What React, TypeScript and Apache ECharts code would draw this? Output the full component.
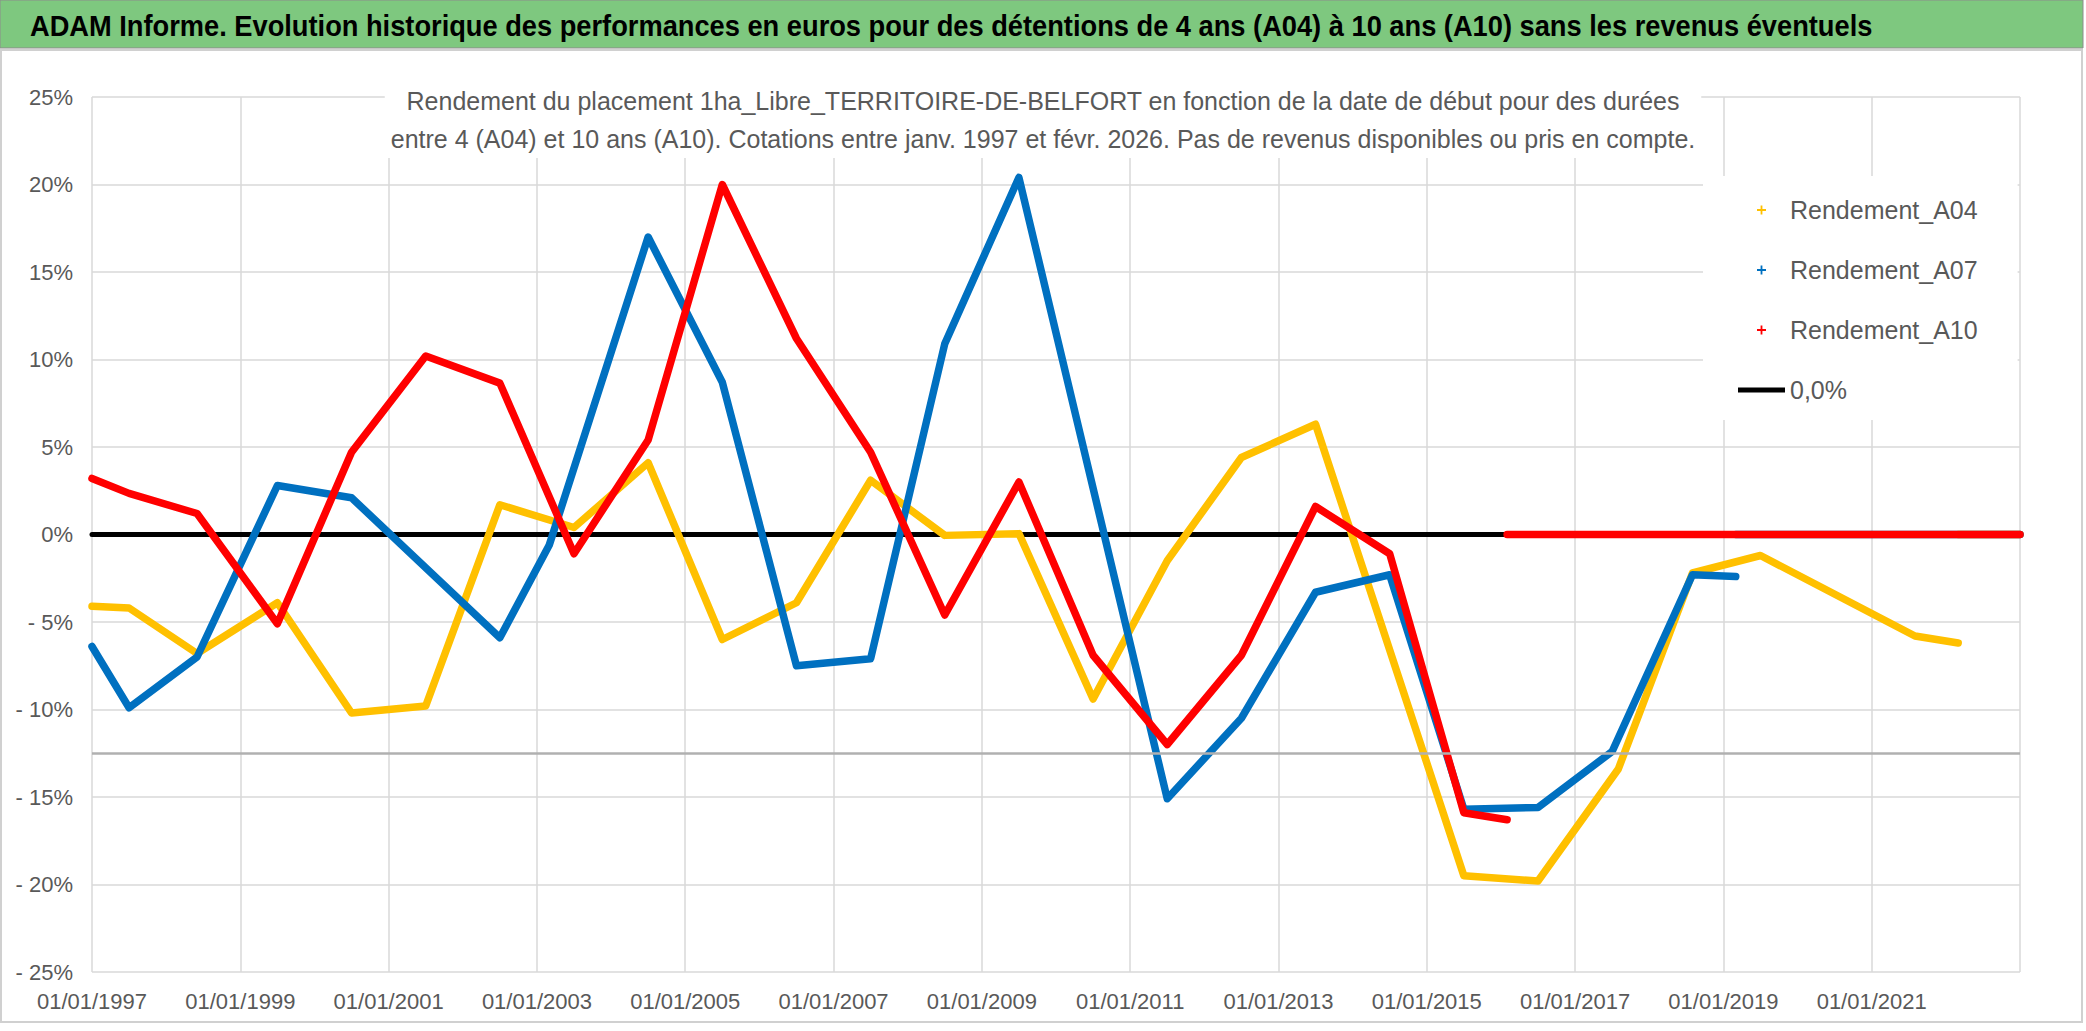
import React, { useEffect, useRef } from "react";
import * as echarts from "echarts";

const TITLE =
  "ADAM Informe. Evolution historique des performances en euros pour des détentions de 4 ans (A04) à 10 ans (A10) sans les revenus éventuels";
const SUBTITLE_LINES = [
  "Rendement du placement 1ha_Libre_TERRITOIRE-DE-BELFORT en fonction de la date de début pour des durées",
  "entre 4 (A04) et 10 ans (A10). Cotations entre janv. 1997 et févr. 2026. Pas de revenus disponibles ou pris en compte.",
];

const NAME_A04 = "Rendement_A04";
const NAME_A07 = "Rendement_A07";
const NAME_A10 = "Rendement_A10";
const NAME_ZERO = "0,0%";

// Keypoints (dates as YYYY-MM, values in %)
const A04_DATES = [
  "1997-01", "1997-07", "1998-06", "1999-07", "2000-07", "2001-07", "2002-07", "2003-07",
  "2004-07", "2005-07", "2006-07", "2007-07", "2008-07", "2009-07", "2010-07", "2011-07",
  "2012-07", "2013-07", "2015-07", "2016-07", "2017-08", "2018-08", "2019-07", "2021-08", "2022-03",
];
const A04_VALUES = [
  -4.1, -4.2, -6.8, -3.9, -10.2, -9.8, 1.7, 0.4,
  4.1, -6.0, -3.9, 3.1, -0.05, 0.05, -9.4, -1.5,
  4.4, 6.3, -19.5, -19.8, -13.4, -2.2, -1.2, -5.8, -6.2,
];
const A04_TAIL_DATES = ["2022-03", "2023-01"];
const A04_TAIL_VALUES = [0, 0];

const A07_DATES = [
  "1997-01", "1997-07", "1998-06", "1999-07", "2000-07", "2002-07", "2003-03", "2004-07",
  "2005-07", "2006-07", "2007-07", "2008-07", "2009-07", "2011-07", "2012-07", "2013-07",
  "2014-07", "2015-07", "2016-07", "2017-07", "2018-08", "2019-03",
];
const A07_VALUES = [
  -6.4, -9.9, -7.0, 2.8, 2.1, -5.9, -0.6, 17.0,
  8.7, -7.5, -7.1, 10.9, 20.4, -15.1, -10.5, -3.3,
  -2.3, -15.7, -15.6, -12.4, -2.3, -2.4,
];
const A07_TAIL_DATES = ["2019-03", "2023-01"];
const A07_TAIL_VALUES = [0, 0];

const A10_DATES = [
  "1997-01", "1997-07", "1998-06", "1999-07", "2000-07", "2001-07", "2002-07", "2003-07",
  "2004-07", "2005-07", "2006-07", "2007-07", "2008-07", "2009-07", "2010-07", "2011-07",
  "2012-07", "2013-07", "2014-07", "2015-07", "2016-02",
];
const A10_VALUES = [
  3.2, 2.35, 1.2, -5.1, 4.7, 10.2, 8.65, -1.1,
  5.4, 20.0, 11.2, 4.7, -4.6, 3.0, -6.9, -12.0,
  -6.9, 1.6, -1.1, -15.9, -16.3,
];
const A10_TAIL_DATES = ["2016-02", "2023-01"];
const A10_TAIL_VALUES = [0, 0];

const ZERO_DATES = ["1997-01", "2023-01"];
const ZERO_VALUES = [0, 0];
const GRAY_LINE_VALUE = -12.5;

// Axis: years since 1997
const BASE_YEAR = 1997;
const X_MIN = 0;
const X_MAX = 26;
const X_STEP = 2;
const Y_MIN = -25;
const Y_MAX = 25;
const Y_STEP = 5;

const COLOR_A04 = "#FFC000";
const COLOR_A07 = "#0070C0";
const COLOR_A10 = "#FF0000";
const TEXT_GRAY = "#595959";
const FONT = "'Liberation Sans', Arial, sans-serif";

const toX = (s: string) => {
  const [y, m] = s.split("-").map(Number);
  return y - BASE_YEAR + (m - 1) / 12;
};
const pairs = (dates: string[], vals: number[]) => dates.map((d, i) => [toX(d), vals[i]]);

const PLUS_ICON = "path://M4 0H6V4H10V6H6V10H4V6H0V4H4Z";
const LINE_ICON = "path://M0 0H47V5H0Z";

export default function App() {
  const ref = useRef<HTMLDivElement>(null);
  useEffect(() => {
    if (!ref.current) return;
    const chart = echarts.init(ref.current, undefined, { renderer: "svg" });
    const lineSeries = (name: string, data: number[][], color: string, z: number, width = 7.5) => ({
      type: "line",
      name,
      data,
      showSymbol: false,
      symbol: "none",
      z,
      itemStyle: { color },
      lineStyle: { color, width, cap: "round", join: "round" },
      silent: true,
    });
    chart.setOption({
      animation: false,
      backgroundColor: "#fff",
      title: {
        text: SUBTITLE_LINES.join("\n"),
        left: "center",
        top: 72,
        padding: [10, 6, 0, 6],
        backgroundColor: "#fff",
        textStyle: {
          fontFamily: FONT,
          fontSize: 25,
          fontWeight: "normal",
          color: TEXT_GRAY,
          lineHeight: 38,
        },
      },
      legend: {
        orient: "vertical",
        left: 1703,
        top: 176,
        padding: [18, 40, 14, 35],
        backgroundColor: "#fff",
        itemWidth: 47,
        itemHeight: 9,
        itemGap: 28,
        selectedMode: false,
        textStyle: { fontFamily: FONT, fontSize: 25, color: TEXT_GRAY, lineHeight: 32 },
        data: [
          { name: NAME_A04, icon: PLUS_ICON, itemStyle: { color: COLOR_A04 } },
          { name: NAME_A07, icon: PLUS_ICON, itemStyle: { color: COLOR_A07 } },
          { name: NAME_A10, icon: PLUS_ICON, itemStyle: { color: COLOR_A10 } },
          { name: NAME_ZERO, icon: LINE_ICON, itemStyle: { color: "#000" } },
        ],
      },
      grid: { left: 92, right: 66, top: 97, bottom: 59, containLabel: false },
      xAxis: {
        type: "value",
        min: X_MIN,
        max: X_MAX,
        interval: X_STEP,
        axisLine: { show: false },
        axisTick: { show: false },
        splitLine: { show: true, lineStyle: { color: "#D9D9D9", width: 1.5 } },
        axisLabel: {
          color: TEXT_GRAY,
          fontFamily: FONT,
          fontSize: 22,
          margin: 18,
          formatter: (v: number) => (v >= X_MAX ? "" : `01/01/${BASE_YEAR + v}`),
        },
      },
      yAxis: {
        type: "value",
        min: Y_MIN,
        max: Y_MAX,
        interval: Y_STEP,
        axisLine: { show: false },
        axisTick: { show: false },
        splitLine: { show: true, lineStyle: { color: "#D9D9D9", width: 1.5 } },
        axisLabel: {
          color: TEXT_GRAY,
          fontFamily: FONT,
          fontSize: 22,
          margin: 19,
          formatter: (v: number) => (v < 0 ? `- ${-v}%` : `${v}%`),
        },
      },
      series: [
        {
          ...lineSeries(NAME_ZERO, pairs(ZERO_DATES, ZERO_VALUES), "#000", 1, 5),
          markLine: {
            silent: true,
            symbol: "none",
            label: { show: false },
            lineStyle: { color: "#B0B0B0", width: 2.5, type: "solid" },
            data: [{ yAxis: GRAY_LINE_VALUE }],
          },
        },
        lineSeries(NAME_A04, pairs(A04_DATES, A04_VALUES), COLOR_A04, 2),
        lineSeries(NAME_A04, pairs(A04_TAIL_DATES, A04_TAIL_VALUES), COLOR_A04, 2),
        lineSeries(NAME_A07, pairs(A07_DATES, A07_VALUES), COLOR_A07, 3),
        lineSeries(NAME_A07, pairs(A07_TAIL_DATES, A07_TAIL_VALUES), COLOR_A07, 3),
        lineSeries(NAME_A10, pairs(A10_DATES, A10_VALUES), COLOR_A10, 4),
        lineSeries(NAME_A10, pairs(A10_TAIL_DATES, A10_TAIL_VALUES), COLOR_A10, 4),
      ],
      graphic: [
        {
          type: "rect",
          z: 0,
          shape: { x: 1, y: 50, width: 2081, height: 972 },
          style: { fill: "none", stroke: "#D0D0D0", lineWidth: 2 },
          silent: true,
        },
        {
          type: "rect",
          z: 10,
          shape: { x: 0, y: 0, width: 2083, height: 48 },
          style: { fill: "#7EC87F", stroke: "#8C8C8C", lineWidth: 1 },
          silent: true,
        },
        {
          type: "text",
          z: 11,
          x: 30,
          y: 26,
          scaleX: 0.94,
          style: {
            text: TITLE,
            fill: "#000",
            font: `bold 29px ${FONT}`,
            verticalAlign: "middle",
            align: "left",
          },
          silent: true,
        },
      ],
    });
    return () => chart.dispose();
  }, []);
  return (
    <div
      ref={ref}
      style={{ position: "absolute", left: 0, top: 0, width: 2086, height: 1031 }}
    />
  );
}
